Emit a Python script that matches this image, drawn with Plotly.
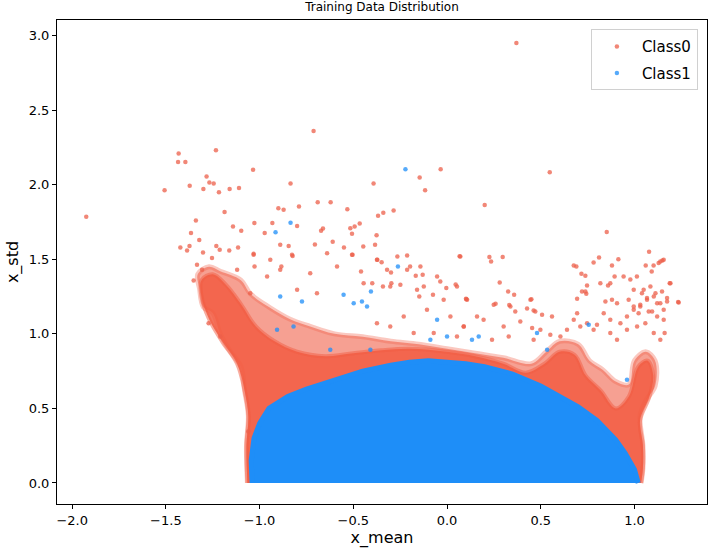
import plotly.graph_objects as go

# sparse Class0 points (x_mean, x_std)
class0_x = [0.37, -1.925, -1.507, -1.432, -1.435, -1.396, -1.233, -1.373, -1.283, -1.268,
            -1.245, -1.30, -1.217, -1.16, -1.11, -1.187, -1.34, -1.366, -1.322, -1.142,
            -1.098, -1.423, -1.374, -1.231, -1.115, -1.035, -0.835, -0.90, -0.872, -0.79,
            -0.932, -0.80, -0.973, -1.028, -1.387, -1.302, -1.213, -1.162, -1.032, -0.89,
            -0.845, -0.824, -1.254, -1.027, -0.943, -0.884, -1.334, -1.307, -1.352, -1.272,
            -1.21, -0.712, -0.034, -0.146, -0.117, -0.392, -0.69, -0.621, -0.532, -0.285,
            -0.368, -0.34, -0.466, -0.516, -0.493, -0.507, -0.662, -0.672, -0.376, -0.61,
            -0.705, -0.55, -0.447, -0.384, -0.504, -0.372, -0.349, -0.265, -0.213, 0.067,
            -0.459, -0.299, -0.167, -0.13, -0.197, -0.399, -0.036, 0.046, -0.004, 0.101,
            -0.124, -0.297, -0.249, -0.342, -0.148, -0.075, 0.548, 0.201, 0.852, 0.226,
            0.235, 0.297, 1.078, 0.811, 0.782, 0.914, 0.676, 0.69, 0.88, 1.06,
            1.102, 1.149, 1.129, 1.092, 0.717, 0.738, 0.894, 0.281, 0.818, 0.747,
            0.326, 0.358, 0.45, 0.259, 0.332, 0.427, 0.462, 0.694, 0.738, 0.871,
            0.942, 1.233, 1.188, 0.978, 1.013, 1.049, 1.085, 1.112, 1.147, 1.174,
            1.121, 1.067, 1.031, 0.996, 0.969, 1.156, 1.094, 1.022, 0.859, 1.138,
            1.156, 0.72, 0.743, 0.845, 0.88, 0.907, 0.996, 1.04, 1.067, 1.103,
            1.138, 1.174, 1.192, 1.236, 1.031, 1.076, 1.121, 1.156, 0.996, 0.96,
            0.925, 0.871, 0.836, 0.80, 0.782, 0.747, 0.711, 0.676, 0.694, 0.871,
            0.907, 0.96, 1.014, 1.058, 1.103, 1.138, 1.161, 0.103, 0.445, 0.249,
            0.16, 0.195, 0.338, 0.364, 0.471, 0.507, 0.56, 0.302, 0.089, 0.391,
            0.454, 0.498, 0.551, 0.605, 0.64, 0.329, 0.24, 0.462, -1.032, -0.827,
            -0.64, -0.507, 0.071, -1.12, -0.96, -0.89, -0.73, -0.587, -0.374, -0.32,
            -0.213, -0.142, -0.053, 0.053, 0.107, -0.445, -0.303, -0.16, -1.05, -0.80,
            -0.694, -0.018, -0.107, 0.018, 0.089, -0.231, -0.303, -0.374, -0.178, -0.071,
            0.053, -1.06]
class0_y = [2.951, 1.785, 1.963, 2.209, 2.153, 2.153, 2.232, 1.993, 2.055, 2.015,
            2.008, 1.972, 1.95, 1.972, 1.979, 1.818, 1.76, 1.676, 1.629, 1.72,
            1.691, 1.579, 1.59, 1.59, 1.579, 2.10, 2.008, 1.843, 1.832, 1.854,
            1.743, 1.724, 1.676, 1.743, 1.559, 1.546, 1.564, 1.559, 1.537, 1.597,
            1.59, 1.523, 1.508, 1.452, 1.497, 1.452, 1.463, 1.43, 1.358, 1.072,
            0.983, 2.361, 2.104, 2.048, 1.964, 2.008, 1.883, 1.883, 1.836, 1.827,
            1.792, 1.812, 1.74, 1.709, 1.72, 1.671, 1.707, 1.691, 1.662, 1.617,
            1.60, 1.579, 1.586, 1.597, 1.53, 1.497, 1.481, 1.519, 1.526, 1.521,
            1.418, 1.412, 1.389, 1.396, 1.452, 1.34, 1.351, 1.331, 1.307, 1.235,
            1.318, 1.34, 1.329, 1.318, 1.251, 1.262, 2.084, 1.865, 1.684, 1.515,
            1.485, 1.515, 1.55, 1.512, 1.479, 1.501, 1.458, 1.452, 1.458, 1.458,
            1.458, 1.492, 1.475, 1.418, 1.403, 1.389, 1.385, 1.345, 1.34, 1.324,
            1.284, 1.262, 1.233, 1.202, 1.193, 1.17, 1.157, 1.235, 1.284, 1.34,
            1.385, 1.213, 1.34, 1.364, 1.385, 1.296, 1.318, 1.273, 1.284, 1.217,
            1.206, 1.229, 1.196, 1.184, 1.229, 1.161, 1.15, 1.139, 1.324, 1.485,
            1.497, 1.284, 1.269, 1.217, 1.229, 1.206, 1.296, 1.273, 1.24, 1.251,
            1.206, 1.24, 1.34, 1.21, 1.184, 1.15, 1.117, 1.094, 1.161, 1.117,
            1.072, 1.094, 1.139, 1.061, 1.027, 1.072, 1.05, 1.094, 1.139, 1.005,
            0.96, 1.027, 1.05, 1.072, 1.005, 0.96, 1.005, 1.233, 1.229, 1.195,
            1.117, 1.094, 1.184, 1.15, 1.15, 1.128, 1.117, 1.05, 1.05, 1.083,
            1.039, 1.027, 0.994, 0.983, 1.027, 0.983, 0.96, 0.96, 1.53, 1.53,
            1.541, 1.53, 1.519, 1.43, 1.385, 1.43, 1.407, 1.452, 1.497, 1.43,
            1.43, 1.452, 1.385, 1.318, 1.229, 1.34, 1.318, 1.296, 1.273, 1.296,
            1.273, 1.229, 1.162, 1.117, 1.05, 1.117, 1.05, 1.072, 1.005, 1.005,
            0.983, 0.346]

# sparse Class1 points
class1_x = [-0.222, -0.835, -0.915, -0.262, -0.406, -0.498, -0.454, -0.427, -0.774, -0.552,
            -0.89, -0.053, -0.089, 0.0, -0.907, -0.819, -0.623, -0.409, 0.133, 0.169,
            0.48, 0.756, 0.96, 0.534]
class1_y = [2.104, 1.745, 1.682, 1.452, 1.284, 1.206, 1.217, 1.184, 1.217, 1.262,
            1.251, 1.094, 0.96, 0.983, 1.027, 1.05, 0.893, 0.893, 0.96, 0.983,
            1.005, 1.061, 0.692, 0.893]

# outline of the loose Class0 cloud (too dense to read single points)
class0_cloud_x = [-1.065, -1.07, -1.06, -1.08, -1.10, -1.16, -1.21, -1.25, -1.30, -1.32,
                  -1.33, -1.27, -1.21, -1.10, -1.05, -0.95, -0.84, -0.73, -0.6, -0.45,
                  -0.3, -0.15, 0.0, 0.15, 0.3, 0.45, 0.53, 0.6, 0.7, 0.76,
                  0.83, 0.9, 0.97, 1.0, 1.06, 1.11, 1.11, 1.06, 1.03, 1.045,
                  1.045, 1.035]
class0_cloud_y = [0.0, 0.25, 0.45, 0.62, 0.78, 0.89, 1.0, 1.14, 1.18, 1.30,
                  1.40, 1.45, 1.42, 1.36, 1.27, 1.18, 1.10, 1.05, 1.0, 0.98,
                  0.95, 0.93, 0.9, 0.87, 0.84, 0.8, 0.88, 0.95, 0.93, 0.82,
                  0.76, 0.68, 0.66, 0.82, 0.88, 0.82, 0.65, 0.55, 0.45, 0.25,
                  0.1, 0.0]

# outline of the packed Class0 rim
class0_rim_x = [-1.065, -1.07, -1.06, -1.08, -1.12, -1.2, -1.27, -1.31, -1.31, -1.25,
                -1.18, -1.1, -1.02, -0.92, -0.8, -0.65, -0.5, -0.35, -0.2, 0.0,
                0.15, 0.3, 0.42, 0.52, 0.6, 0.68, 0.74, 0.82, 0.9, 0.97,
                1.02, 1.07, 1.1, 1.08, 1.03, 1.045, 1.045, 1.035]
class0_rim_y = [0.0, 0.25, 0.45, 0.62, 0.80, 0.95, 1.1, 1.25, 1.36, 1.40,
                1.33, 1.2, 1.05, 0.95, 0.88, 0.85, 0.87, 0.89, 0.9, 0.88,
                0.85, 0.8, 0.74, 0.8, 0.88, 0.86, 0.72, 0.62, 0.5, 0.58,
                0.78, 0.82, 0.72, 0.58, 0.42, 0.25, 0.1, 0.0]

# outline of the solid Class1 core
class1_zone_x = [-1.04, -1.045, -1.03, -1.0, -0.95, -0.85, -0.75, -0.6, -0.45, -0.3,
                 -0.2, -0.1, 0.0, 0.1, 0.2, 0.35, 0.5, 0.6, 0.7, 0.8,
                 0.9, 0.95, 1.0, 1.02]
class1_zone_y = [0.0, 0.15, 0.3, 0.40, 0.50, 0.58, 0.63, 0.69, 0.75, 0.79,
                 0.81, 0.82, 0.81, 0.80, 0.78, 0.73, 0.65, 0.58, 0.51, 0.42,
                 0.29, 0.2, 0.09, 0.0]

RED = '#ec5f4a'
BLUE = '#1e8ef8'

fig = go.Figure()

fig.add_trace(go.Scatter(x=class0_cloud_x, y=class0_cloud_y, fill='toself', mode='lines',
                         fillcolor='rgba(240,96,74,0.6)',
                         line=dict(color='rgba(240,96,74,0.35)', width=5, shape='spline'),
                         showlegend=False, hoverinfo='skip'))
fig.add_trace(go.Scatter(x=class0_rim_x, y=class0_rim_y, fill='toself', mode='lines',
                         fillcolor='rgba(242,92,66,0.85)',
                         line=dict(color='rgba(242,92,66,0.5)', width=4, shape='spline'),
                         showlegend=False, hoverinfo='skip'))
fig.add_trace(go.Scatter(x=class0_x, y=class0_y, mode='markers', name='Class0',
                         legendgroup='c0',
                         marker=dict(color=RED, size=4.5, opacity=0.75,
                                     line=dict(width=0))))
fig.add_trace(go.Scatter(x=class1_zone_x, y=class1_zone_y, fill='toself', mode='lines',
                         fillcolor=BLUE, line=dict(color=BLUE, width=5),
                         showlegend=False, hoverinfo='skip'))
fig.add_trace(go.Scatter(x=class1_x, y=class1_y, mode='markers', name='Class1',
                         legendgroup='c1',
                         marker=dict(color=BLUE, size=4.5, opacity=0.75,
                                     line=dict(width=0))))

axis_style = dict(showline=True, linecolor='black', linewidth=1, mirror=True,
                  ticks='outside', ticklen=4, tickcolor='black', showgrid=False,
                  zeroline=False, tickfont=dict(size=13, color='black'))

fig.update_xaxes(range=[-2.081, 1.387], tickvals=[-2.0, -1.5, -1.0, -0.5, 0.0, 0.5, 1.0],
                 tickformat='.1f', title=dict(text='x_mean', font=dict(size=16, color='black'),
                                               standoff=4), **axis_style)
fig.update_yaxes(range=[-0.141, 3.105], tickvals=[0.0, 0.5, 1.0, 1.5, 2.0, 2.5, 3.0],
                 tickformat='.1f', title=dict(text='x_std', font=dict(size=16, color='black'),
                                              standoff=6), **axis_style)

fig.update_layout(
    width=710, height=553,
    margin=dict(l=57, r=3, t=20, b=49),
    paper_bgcolor='white', plot_bgcolor='white',
    font=dict(family='DejaVu Sans', color='black'),
    title=dict(text='Training Data Distribution', font=dict(size=12, color='black'),
               x=0.538, xanchor='center', y=0.987, yanchor='middle'),
    legend=dict(x=0.986, y=0.981, xanchor='right', yanchor='top',
                bgcolor='rgba(255,255,255,0.8)', bordercolor='#d0d0d0', borderwidth=1,
                font=dict(size=15, color='black'), itemsizing='trace', itemwidth=40,
                traceorder='grouped', tracegroupgap=4),
    showlegend=True,
)

# the page body has a default 8px margin; drop it so the figure sits at 0,0
fig.write_html("out.html", config={'displayModeBar': False},
               post_script="document.body.style.margin='0px';")
